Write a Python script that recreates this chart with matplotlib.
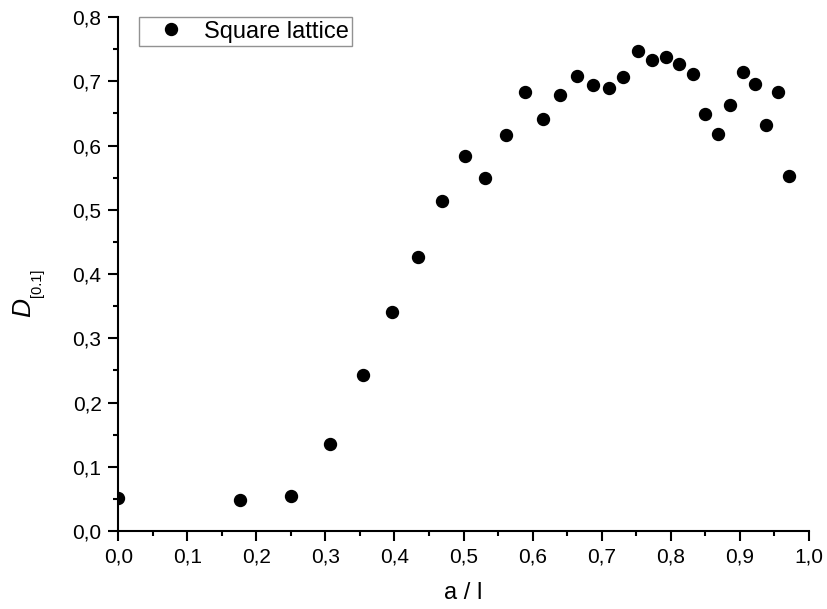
import matplotlib
matplotlib.use("Agg")
import matplotlib.pyplot as plt
from matplotlib.ticker import MultipleLocator, FuncFormatter

plt.rcParams['font.family'] = ['Liberation Sans', 'DejaVu Sans']

# a / l values
a_over_l = [0.0, 0.177, 0.250, 0.307, 0.355, 0.396, 0.434, 0.469, 0.502, 0.531,
            0.561, 0.589, 0.615, 0.640, 0.664, 0.687, 0.710, 0.731, 0.753, 0.773,
            0.793, 0.812, 0.832, 0.850, 0.869, 0.886, 0.904, 0.922, 0.938, 0.955,
            0.971]
# D[0.1] values
d_vals = [0.051, 0.049, 0.0545, 0.136, 0.243, 0.341, 0.426, 0.514, 0.583, 0.549,
          0.617, 0.683, 0.641, 0.678, 0.708, 0.695, 0.689, 0.707, 0.747, 0.733,
          0.738, 0.727, 0.711, 0.649, 0.618, 0.663, 0.715, 0.696, 0.632, 0.684,
          0.552]

W, H = 827, 609
fig = plt.figure(figsize=(W / 100, H / 100), dpi=100)
ax = fig.add_axes([0.143, 0.128, 0.835, 0.844])

ax.plot(a_over_l, d_vals, 'o', color='black', markersize=8.6, label='Square lattice')

ax.set_xlim(0, 1.0)
ax.set_ylim(0, 0.8)

comma = FuncFormatter(lambda v, p: ('%.1f' % v).replace('.', ','))
ax.xaxis.set_major_locator(MultipleLocator(0.1))
ax.xaxis.set_minor_locator(MultipleLocator(0.05))
ax.yaxis.set_major_locator(MultipleLocator(0.1))
ax.yaxis.set_minor_locator(MultipleLocator(0.05))
ax.xaxis.set_major_formatter(comma)
ax.yaxis.set_major_formatter(comma)

for s in ['top', 'right']:
    ax.spines[s].set_visible(False)
for s in ['left', 'bottom']:
    ax.spines[s].set_linewidth(1.5)

ax.tick_params(which='major', direction='out', length=7, width=1.5, labelsize=15, pad=5)
ax.tick_params(which='minor', direction='out', length=3.6, width=1.5)

ax.set_xlabel('a / l', fontsize=17, labelpad=11)

# y label: italic D with smaller upright subscript
fig.text(23.5 / W, 1 - 307 / H, 'D', style='italic', fontsize=19,
         rotation=90, ha='center', va='center')
fig.text(37 / W, 1 - 283 / H, '[0.1]', fontsize=10.5,
         rotation=90, ha='center', va='center')

leg = ax.legend(loc='upper left', bbox_to_anchor=(0.03, 1.0), fontsize=17,
                frameon=True, fancybox=False, borderpad=0.15, handletextpad=0.2,
                borderaxespad=0.0, handlelength=2.4)
leg.get_frame().set_edgecolor('#777777')
leg.get_frame().set_linewidth(1.0)

fig.savefig('out.png', dpi=100)
